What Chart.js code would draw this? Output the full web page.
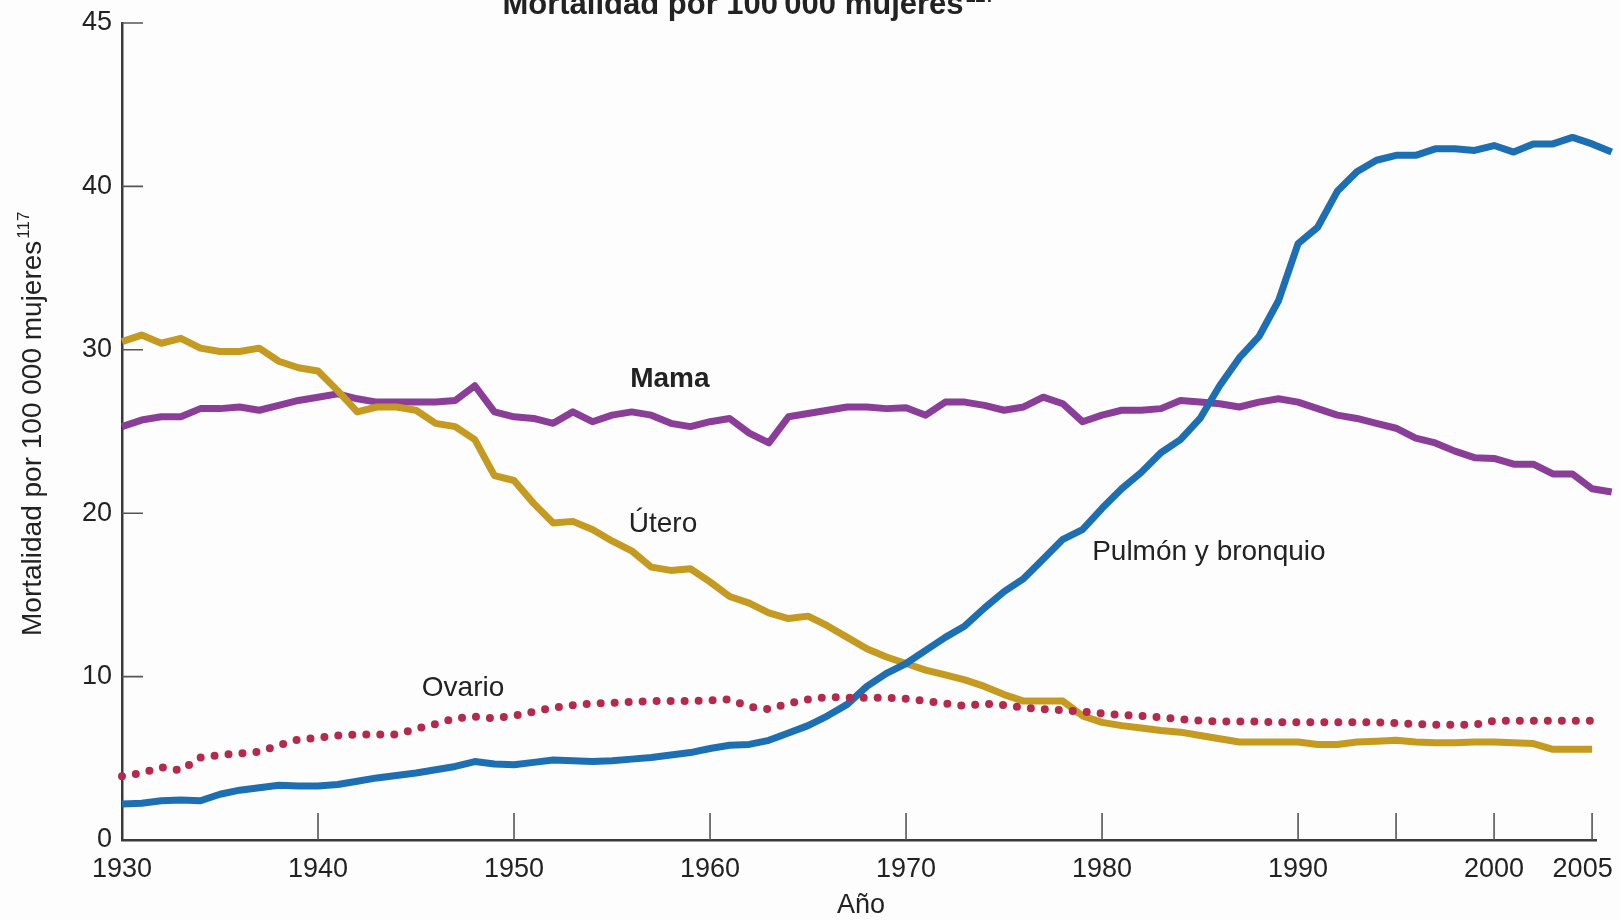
<!DOCTYPE html>
<html lang="es">
<head>
<meta charset="utf-8">
<title>Mortalidad por cáncer en mujeres</title>
<script src="https://cdn.jsdelivr.net/npm/chart.js@4.4.1/dist/chart.umd.min.js"></script>
<style>
  html, body { margin: 0; padding: 0; background: #fdfdfd; }
  #wrap { width: 1620px; height: 920px; }
</style>
</head>
<body>
<div id="wrap"><canvas id="chart" width="1620" height="920"></canvas></div>
<script>
const years = [
  1930, 1931, 1932, 1933, 1934, 1935, 1936, 1937, 1938, 1939,
  1940, 1941, 1942, 1943, 1944, 1945, 1946, 1947, 1948, 1949,
  1950, 1951, 1952, 1953, 1954, 1955, 1956, 1957, 1958, 1959,
  1960, 1961, 1962, 1963, 1964, 1965, 1966, 1967, 1968, 1969,
  1970, 1971, 1972, 1973, 1974, 1975, 1976, 1977, 1978, 1979,
  1980, 1981, 1982, 1983, 1984, 1985, 1986, 1987, 1988, 1989,
  1990, 1991, 1992, 1993, 1994, 1995, 1996, 1997, 1998, 1999,
  2000, 2001, 2002, 2003, 2004, 2005, 2006
]

// Tasas por 100 000 mujeres, una por año
const pulmon = [
  2.2, 2.25, 2.4, 2.45, 2.4, 2.8, 3.05, 3.2, 3.35, 3.3,
  3.3, 3.4, 3.6, 3.8, 3.95, 4.1, 4.3, 4.5, 4.8, 4.65,
  4.6, 4.75, 4.9, 4.85, 4.8, 4.85, 4.95, 5.05, 5.2, 5.35,
  5.6, 5.8, 5.85, 6.1, 6.55, 7.0, 7.6, 8.3, 9.4, 10.2,
  10.8, 11.6, 12.4, 13.1, 14.2, 15.2, 16.0, 17.2, 18.4, 19.0,
  20.3, 21.5, 22.5, 23.7, 24.5, 25.8, 27.8, 29.5, 30.8, 33.0,
  36.5, 37.5, 39.7, 40.9, 41.6, 41.9, 41.9, 42.3, 42.3, 42.2,
  42.5, 42.1, 42.6, 42.6, 43.0, 42.6, 42.1
]
const mama = [
  25.3, 25.7, 25.9, 25.9, 26.4, 26.4, 26.5, 26.3, 26.6, 26.9,
  27.1, 27.3, 27.0, 26.8, 26.8, 26.8, 26.8, 26.9, 27.8, 26.2,
  25.9, 25.8, 25.5, 26.2, 25.6, 26.0, 26.2, 26.0, 25.5, 25.3,
  25.6, 25.8, 24.9, 24.3, 25.9, 26.1, 26.3, 26.5, 26.5, 26.4,
  26.45, 26.0, 26.8, 26.8, 26.6, 26.3, 26.5, 27.1, 26.7, 25.6,
  26.0, 26.3, 26.3, 26.4, 26.9, 26.8, 26.7, 26.5, 26.8, 27.0,
  26.8, 26.4, 26.0, 25.8, 25.5, 25.2, 24.6, 24.3, 23.8, 23.4,
  23.35, 23.0, 23.0, 22.4, 22.4, 21.5, 21.3
]
const utero = [
  30.5, 30.9, 30.4, 30.7, 30.1, 29.9, 29.9, 30.1, 29.3, 28.9,
  28.7, 27.5, 26.2, 26.5, 26.5, 26.3, 25.5, 25.3, 24.5, 22.3,
  22.0, 20.6, 19.4, 19.5, 19.0, 18.3, 17.7, 16.7, 16.5, 16.6,
  15.8, 14.9, 14.5, 13.9, 13.55, 13.7, 13.1, 12.4, 11.7, 11.2,
  10.8, 10.4, 10.1, 9.8, 9.4, 8.9, 8.5, 8.5, 8.5, 7.6,
  7.2, 7.0, 6.85, 6.7, 6.6, 6.4, 6.2, 6.0, 6.0, 6.0,
  6.0, 5.85, 5.85, 6.0, 6.05, 6.1, 6.0, 5.95, 5.95, 6.0,
  6.0, 5.95, 5.9, 5.55, 5.55, 5.55, null
]
const ovario = [
  3.9, 4.1, 4.45, 4.25, 5.05, 5.2, 5.3, 5.4, 5.8, 6.15,
  6.25, 6.4, 6.45, 6.45, 6.45, 6.8, 7.1, 7.45, 7.55, 7.45,
  7.6, 7.85, 8.1, 8.25, 8.35, 8.4, 8.45, 8.5, 8.5, 8.5,
  8.55, 8.6, 8.15, 8.0, 8.35, 8.6, 8.75, 8.7, 8.7, 8.7,
  8.65, 8.5, 8.35, 8.2, 8.35, 8.25, 8.1, 8.0, 7.95, 7.85,
  7.75, 7.65, 7.6, 7.5, 7.4, 7.3, 7.25, 7.25, 7.25, 7.2,
  7.2, 7.2, 7.2, 7.2, 7.2, 7.15, 7.1, 7.05, 7.05, 7.05,
  7.3, 7.3, 7.3, 7.3, 7.3, 7.3, null
]

const xTickValues = [1930, 1940, 1950, 1960, 1970, 1980, 1990, 1995, 2000, 2005]
// 1995 lleva marca pero no etiqueta; 2005 se corre un poco a la izquierda
const xTickLabels = ['1930', '1940', '1950', '1960', '1970', '1980', '1990', '', '2000', '2005\u2002\u2009']
const yTickValues = [0, 10, 20, 30, 40, 50]
const yTickLabels = ['0', '10', '20', '30', '40', '45']

const FONT = '"Liberation Sans", Arial, Helvetica, sans-serif'
const TEXT = '#222'

const toPoints = (values) => years.map((yr, i) => ({ x: yr, y: values[i] }))

// Fondo de la figura
const background = {
  id: 'background',
  beforeDraw(chart) {
    const { ctx, width, height } = chart
    ctx.save()
    ctx.fillStyle = '#fdfdfd'
    ctx.fillRect(0, 0, width, height)
    ctx.restore()
  }
}

// Marcas de los ejes hacia dentro del gráfico
const inwardTicks = {
  id: 'inwardTicks',
  beforeDatasetsDraw(chart) {
    const { ctx, chartArea, scales: { x, y } } = chart
    ctx.save()
    ctx.strokeStyle = '#555'
    ctx.lineWidth = 1.6
    ctx.beginPath()
    x.ticks.forEach((t) => {
      if (t.value === xTickValues[0]) return
      const px = x.getPixelForValue(t.value)
      ctx.moveTo(px, chartArea.bottom)
      ctx.lineTo(px, chartArea.bottom - 27)
    })
    y.ticks.forEach((t) => {
      if (t.value === 0) return
      const py = y.getPixelForValue(t.value)
      ctx.moveTo(chartArea.left, py)
      ctx.lineTo(chartArea.left + 21, py)
    })
    ctx.stroke()
    ctx.restore()
  }
}

// Rótulos de las series, anclados a coordenadas de datos
const seriesNames = [
  { text: 'Mama', year: 1957.95, value: 28.2, bold: true },
  { text: 'Útero', year: 1957.6, value: 19.3, bold: false },
  { text: 'Ovario', year: 1947.4, value: 9.3, bold: false },
  { text: 'Pulmón y bronquio', year: 1985.45, value: 17.6, bold: false }
]

const annotations = {
  id: 'annotations',
  afterDraw(chart) {
    const { ctx, scales: { x, y } } = chart
    ctx.save()
    ctx.fillStyle = TEXT
    ctx.textAlign = 'center'
    ctx.textBaseline = 'middle'
    seriesNames.forEach((s) => {
      ctx.font = (s.bold ? 'bold ' : '') + '28px ' + FONT
      ctx.fillText(s.text, x.getPixelForValue(s.year), y.getPixelForValue(s.value))
    })

    // Título superior (cortado por el borde)
    const title = 'Mortalidad por 100\u2009000 mujeres'
    ctx.textAlign = 'left'
    ctx.textBaseline = 'alphabetic'
    ctx.font = 'bold 31px ' + FONT
    const tw = ctx.measureText(title).width
    const tx = 751 - tw / 2 - 18
    ctx.fillText(title, tx, 14)
    ctx.font = 'bold 18px ' + FONT
    ctx.fillText('127', tx + tw + 2, 2)

    // Título del eje Y
    const ylab = 'Mortalidad por 100 000 mujeres'
    ctx.save()
    ctx.translate(33, 636)
    ctx.rotate(-Math.PI / 2)
    ctx.font = '28px ' + FONT
    ctx.textBaseline = 'middle'
    const yw = ctx.measureText(ylab).width
    ctx.fillText(ylab, 0, 0)
    ctx.font = '17px ' + FONT
    ctx.fillText('117', yw + 2, -9)
    ctx.restore()

    // Título del eje X
    ctx.font = '27px ' + FONT
    ctx.textAlign = 'center'
    ctx.textBaseline = 'middle'
    ctx.fillText('Año', 861, 906)
    ctx.restore()
  }
}

const solid = (label, data, color, order) => ({
  label,
  data: toPoints(data),
  borderColor: color,
  borderWidth: 7,
  borderJoinStyle: 'round',
  pointRadius: 0,
  tension: 0,
  clip: false,
  order
})

new Chart(document.getElementById('chart'), {
  type: 'line',
  data: {
    datasets: [
      {
        label: 'Ovario',
        data: toPoints(ovario),
        borderColor: '#b52a4c',
        borderWidth: 8,
        borderDash: [0, 14],
        borderCapStyle: 'round',
        pointRadius: 0,
        tension: 0,
        clip: false,
        order: 0
      },
      solid('Pulmón y bronquio', pulmon, '#1c6fb3', 1),
      solid('Útero', utero, '#c59a20', 2),
      solid('Mama', mama, '#8b3e98', 3)
    ]
  },
  options: {
    responsive: false,
    animation: false,
    events: [],
    layout: {
      padding: { top: 23, right: 24, left: 0, bottom: 0 }
    },
    scales: {
      x: {
        type: 'linear',
        min: 1930,
        max: 2005.2,
        afterBuildTicks: (scale) => {
          scale.ticks = xTickValues.map((v) => ({ value: v }))
        },
        afterFit: (scale) => {
          scale.height = 80
          // the end labels may hang past the plot edges
          scale.paddingLeft = 0
          scale.paddingRight = 0
        },
        grid: { display: true, drawOnChartArea: false, drawTicks: false },
        border: { display: true, color: '#3a3a3a', width: 2.5 },
        ticks: {
          autoSkip: false,
          maxRotation: 0,
          padding: 13,
          color: TEXT,
          font: { family: FONT, size: 27 },
          callback: (value) => {
            const i = xTickValues.indexOf(value)
            return i >= 0 ? xTickLabels[i] : ''
          }
        }
      },
      y: {
        type: 'linear',
        min: 0,
        max: 50,
        afterBuildTicks: (scale) => {
          scale.ticks = yTickValues.map((v) => ({ value: v }))
        },
        afterFit: (scale) => {
          scale.width = 122
          scale.paddingTop = 0
          scale.paddingBottom = 0
        },
        grid: { display: true, drawOnChartArea: false, drawTicks: false },
        border: { display: true, color: '#3a3a3a', width: 2.5 },
        ticks: {
          padding: 10,
          color: TEXT,
          font: { family: FONT, size: 27 },
          callback: (value) => {
            const i = yTickValues.indexOf(value)
            return i >= 0 ? yTickLabels[i] : ''
          }
        }
      }
    },
    plugins: {
      legend: { display: false },
      tooltip: { enabled: false },
      title: { display: false }
    }
  },
  plugins: [background, inwardTicks, annotations]
})
</script>
</body>
</html>
